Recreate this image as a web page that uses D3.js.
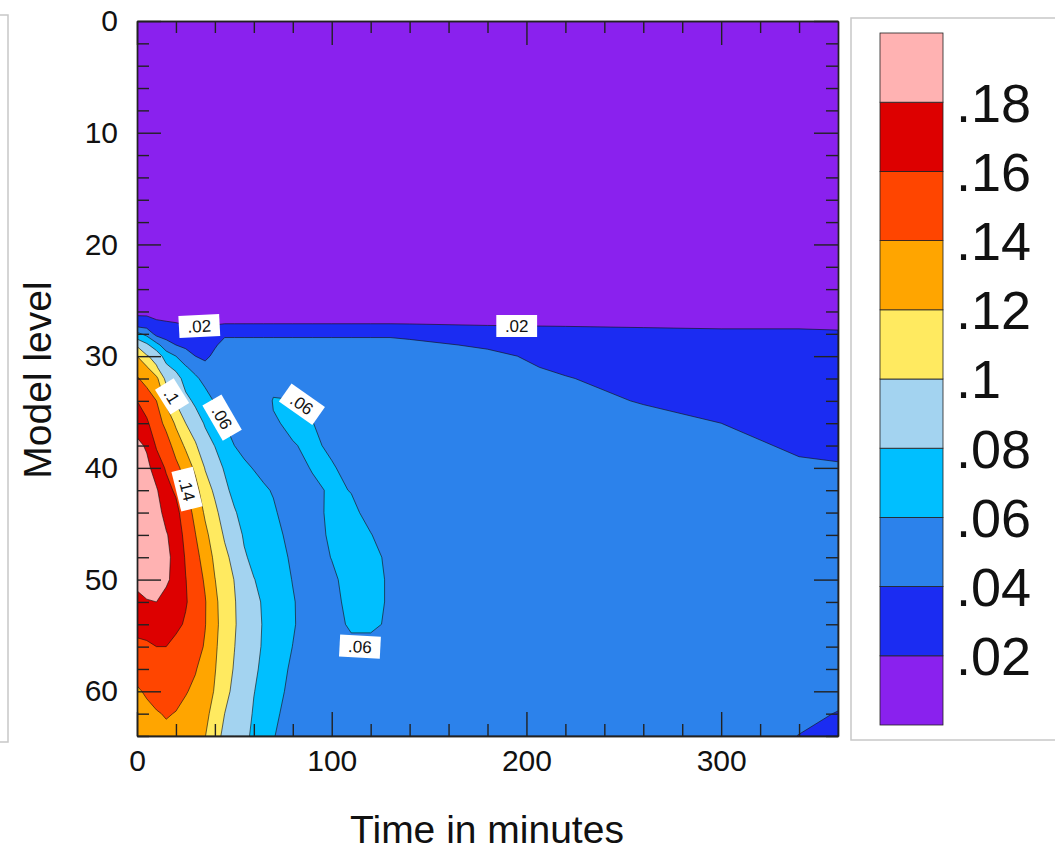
<!DOCTYPE html>
<html>
<head>
<meta charset="utf-8">
<script src="https://cdn.jsdelivr.net/npm/d3@7"></script>
<style>
  body { margin: 0; background: #fff; }
  text { font-family: "Liberation Sans", Arial, Helvetica, sans-serif; }
</style>
</head>
<body>
<div id="chart"></div>
<script>
// times (minutes) at which a vertical profile is stored
var times = [0, 5, 10, 15, 20, 25, 30, 35, 40, 45, 50, 55, 60, 65, 70, 80, 90, 100, 110, 120, 130, 140, 180, 220, 260, 300, 340, 360];
// model levels of each profile entry (0 = top)
var levels = [0, 20, 25, 26, 27, 28, 29, 30, 31, 32, 34, 36, 38, 40, 42, 44, 46, 48, 50, 52, 54, 56, 58, 60, 62, 64];

// one profile per time
var profiles = [
  [.005,.006,.011,.017,.025,.065,.097,.120,.131,.1422,.160,.169,.186,.192,.195,.196,.195,.192,.186,.174,.166,.156,.146,.138,.132,.128],
  [.005,.006,.010,.016,.026,.054,.084,.1018,.1218,.132,.152,.1627,.177,.186,.191,.193,.193,.191,.187,.179,.168,.157,.149,.142,.136,.130],
  [.005,.006,.009,.0145,.022,.0334,.0667,.0933,.1017,.1246,.140,.150,.158,.170,.182,.187,.189,.189,.187,.180,.170,.160,.152,.145,.139,.134],
  [.005,.006,.008,.013,.021,.031,.048,.070,.085,.094,.116,.134,.150,.158,.166,.174,.1815,.183,.1815,.177,.168,.160,.153,.147,.141,.137],
  [.005,.006,.007,.012,.020,.028,.040,.060,.074,.090,.098,.117,.131,.146,.157,.166,.172,.176,.177,.172,.164,.155,.149,.144,.1395,.135],
  [.005,.006,.006,.011,.018,.028,.036,.048,.062,.071,.086,.100,.117,.131,.141,.149,.154,.158,.1605,.1615,.158,.152,.146,.141,.136,.131],
  [.005,.006,.006,.010,.018,.025,.033,.040,.052,.064,.076,.090,.102,.116,.127,.135,.1405,.146,.150,.152,.151,.148,.141,.137,.132,.127],
  [.005,.006,.006,.010,.018,.024,.030,.037,.044,.053,.070,.078,.088,.099,.108,.117,.125,.132,.1375,.1412,.1408,.138,.134,.130,.125,.1205],
  [.005,.006,.006,.010,.018,.028,.0385,.043,.046,.050,.058,.069,.0795,.089,.097,.104,.110,.116,.1205,.1235,.124,.1225,.121,.1185,.113,.108],
  [.005,.006,.006,.010,.018,.038,.044,.045,.047,.049,.054,.060,.070,.078,.085,.092,.098,.104,.109,.112,.113,.112,.109,.105,.100,.095],
  [.005,.006,.006,.010,.018,.038,.044,.045,.046,.048,.052,.056,.060,.066,.074,.082,.089,.095,.0995,.1015,.102,.1005,.0985,.096,.093,.090],
  [.005,.006,.006,.010,.018,.038,.044,.045,.046,.048,.050,.053,.057,.062,.068,.073,.078,.082,.087,.090,.091,.090,.089,.088,.087,.085],
  [.005,.006,.006,.010,.018,.038,.044,.045,.046,.048,.049,.052,.055,.0595,.064,.068,.072,.076,.0805,.0835,.0845,.084,.0825,.0805,.0785,.076],
  [.005,.006,.006,.010,.018,.038,.044,.045,.046,.047,.048,.050,.053,.057,.0615,.065,.069,.073,.076,.0785,.079,.0785,.077,.075,.073,.071],
  [.005,.006,.006,.010,.018,.038,.044,.045,.046,.052,.0615,.058,.054,.056,.0592,.0615,.064,.066,.068,.069,.069,.068,.066,.064,.062,.0605],
  [.005,.006,.006,.010,.018,.038,.044,.045,.047,.050,.0605,.0635,.059,.053,.052,.054,.056,.058,.0595,.061,.0612,.0598,.058,.057,.056,.055],
  [.005,.006,.006,.010,.018,.038,.044,.045,.047,.050,.053,.0605,.063,.0612,.056,.054,.053,.053,.053,.053,.053,.052,.052,.052,.052,.052],
  [.005,.006,.006,.010,.018,.038,.044,.045,.047,.050,.052,.053,.057,.0615,.0625,.064,.063,.0605,.057,.055,.054,.053,.052,.052,.052,.052],
  [.005,.006,.006,.010,.018,.038,.044,.045,.047,.050,.051,.052,.053,.055,.0595,.063,.065,.066,.066,.065,.0625,.056,.053,.052,.052,.052],
  [.005,.006,.006,.010,.018,.038,.044,.045,.047,.049,.050,.051,.052,.053,.054,.056,.0605,.064,.065,.065,.0625,.056,.053,.052,.052,.052],
  [.005,.006,.006,.010,.018,.038,.044,.045,.047,.049,.050,.051,.051,.052,.053,.054,.054,.057,.058,.058,.058,.054,.052,.051,.051,.051],
  [.005,.006,.006,.010,.018,.035,.045,.046,.047,.048,.049,.050,.050,.051,.051,.051,.051,.052,.052,.052,.052,.051,.051,.051,.051,.051],
  [.005,.006,.006,.010,.018,.026,.037,.045,.046,.047,.048,.049,.049,.050,.050,.050,.050,.050,.050,.050,.050,.050,.050,.050,.049,.049],
  [.005,.006,.006,.010,.017,.026,.029,.032,.037,.041,.045,.047,.048,.048,.049,.049,.049,.049,.049,.049,.049,.049,.048,.048,.048,.047],
  [.005,.006,.006,.010,.016,.025,.027,.029,.031,.033,.039,.045,.046,.047,.047,.047,.047,.047,.047,.047,.047,.047,.047,.046,.046,.045],
  [.005,.006,.006,.010,.015,.024,.026,.028,.030,.032,.036,.040,.044,.045,.046,.046,.046,.046,.046,.046,.046,.046,.045,.045,.044,.043],
  [.005,.006,.006,.010,.015,.024,.025,.027,.029,.030,.032,.035,.038,.042,.044,.045,.045,.045,.045,.045,.044,.044,.043,.042,.0412,.0399],
  [.005,.006,.006,.010,.014,.023,.024,.026,.028,.029,.032,.034,.036,.0415,.043,.044,.044,.044,.044,.044,.043,.0425,.042,.0415,.0398,.0375]
];

var contourLevels = [.02, .04, .06, .08, .1, .12, .14, .16, .18];
var levelLabels = [".02", ".04", ".06", ".08", ".1", ".12", ".14", ".16", ".18"];
var colors = ["#8a21ee", "#1b2cf2", "#2c82eb", "#00bfff", "#a3d3f0", "#ffea60", "#ffa500", "#ff4500", "#dd0000", "#ffb2b2"];

var xMajor = [0, 100, 200, 300];
var xMinor = [20, 40, 60, 80, 120, 140, 160, 180, 220, 240, 260, 280, 320, 340];
var yMajor = [0, 10, 20, 30, 40, 50, 60];
var yMinor = [2, 4, 6, 8, 12, 14, 16, 18, 22, 24, 26, 28, 32, 34, 36, 38, 42, 44, 46, 48, 52, 54, 56, 58, 62, 64];

// labels written on the contour lines
var lineLabelText = [".02", ".02", ".1", ".06", ".06", ".14", ".06"];
var lineLabelTime = [32, 195, 18, 43.7, 84.7, 25.7, 114.5];
var lineLabelLevel = [27.3, 27.3, 33.6, 35.5, 34.3, 41.9, 56.0];
var lineLabelAngle = [-3, 0, 58, 60, 35, 76, 3];

var svg = d3.select("#chart").append("svg").attr("width", 1055).attr("height", 850);

var x = d3.scaleLinear().domain([0, 360]).range([137, 838]);
var y = d3.scaleLinear().domain([0, 64]).range([21, 736]);

// frames of the neighbouring panel and of the label bar
svg.append("path")
  .attr("d", "M0,15H8V742H0")
  .attr("fill", "none").attr("stroke", "#c8c8c8").attr("stroke-width", 1.5);
svg.append("rect")
  .attr("x", 851).attr("y", 18).attr("width", 220).attr("height", 722)
  .attr("fill", "none").attr("stroke", "#c8c8c8").attr("stroke-width", 1.5);

// grid for d3.contours, row by row
var nx = times.length, ny = levels.length;
var grid = new Array(nx * ny);
for (var j = 0; j < ny; j++) {
  for (var i = 0; i < nx; i++) grid[j * nx + i] = profiles[i][j];
}

// grid index -> time / level (the stored profiles are not evenly spaced)
var colTime = d3.scaleLinear().domain(d3.range(nx)).range(times).clamp(true);
var rowLevel = d3.scaleLinear().domain(d3.range(ny)).range(levels).clamp(true);

var path = d3.geoPath(d3.geoTransform({
  point: function(gx, gy) {
    this.stream.point(x(colTime(gx - 0.5)), y(rowLevel(gy - 0.5)));
  }
}));

var bands = d3.contours().size([nx, ny]).thresholds(contourLevels)(grid);

svg.append("clipPath").attr("id", "clip")
  .append("rect").attr("x", 137).attr("y", 21).attr("width", 701).attr("height", 715);

var plot = svg.append("g").attr("clip-path", "url(#clip)");
plot.append("rect")
  .attr("x", 137).attr("y", 21).attr("width", 701).attr("height", 715)
  .attr("fill", colors[0]);
plot.selectAll("path.band")
  .data(bands)
  .enter().append("path")
  .attr("class", "band")
  .attr("d", path)
  .attr("fill", function(d, i) { return colors[i + 1]; })
  .attr("stroke", "#151515")
  .attr("stroke-opacity", 0.8)
  .attr("stroke-width", 0.8);

// contour line labels
var lab = svg.append("g").selectAll("g")
  .data(lineLabelText)
  .enter().append("g")
  .attr("transform", function(d, i) {
    return "translate(" + x(lineLabelTime[i]) + "," + y(lineLabelLevel[i]) + ") rotate(" + lineLabelAngle[i] + ")";
  });
lab.append("rect")
  .attr("x", function(d) { return -d.length * 5.8 - 3; })
  .attr("y", -11)
  .attr("width", function(d) { return d.length * 11.6 + 6; })
  .attr("height", 22)
  .attr("fill", "#fff");
lab.append("text")
  .attr("text-anchor", "middle")
  .attr("dy", "0.36em")
  .attr("font-size", 17)
  .attr("fill", "#111")
  .text(function(d) { return d; });

// axes, ticks pointing into the plot on all four sides
function styleAxis(g) {
  g.selectAll("path.domain").attr("stroke", "#222").attr("stroke-width", 1.4);
  g.selectAll(".tick line").attr("stroke", "#222").attr("stroke-width", 1.4);
  g.selectAll("text").attr("font-size", 30).attr("fill", "#111")
    .style("font-family", "'Liberation Sans', Arial, sans-serif");
}

svg.append("g").attr("transform", "translate(137,0)")
  .call(d3.axisLeft(y).tickValues(yMajor).tickSize(-24).tickSizeOuter(0).tickPadding(19).tickFormat(d3.format("d")))
  .call(styleAxis);
svg.append("g").attr("transform", "translate(137,0)")
  .call(d3.axisLeft(y).tickValues(yMinor).tickSize(-12).tickSizeOuter(0).tickFormat(""))
  .call(styleAxis);
svg.append("g").attr("transform", "translate(838,0)")
  .call(d3.axisRight(y).tickValues(yMajor).tickSize(-24).tickSizeOuter(0).tickFormat(""))
  .call(styleAxis);
svg.append("g").attr("transform", "translate(838,0)")
  .call(d3.axisRight(y).tickValues(yMinor).tickSize(-12).tickSizeOuter(0).tickFormat(""))
  .call(styleAxis);
svg.append("g").attr("transform", "translate(0,736)")
  .call(d3.axisBottom(x).tickValues(xMajor).tickSize(-24).tickSizeOuter(0).tickPadding(14).tickFormat(d3.format("d")))
  .call(styleAxis);
svg.append("g").attr("transform", "translate(0,736)")
  .call(d3.axisBottom(x).tickValues(xMinor).tickSize(-12).tickSizeOuter(0).tickFormat(""))
  .call(styleAxis);
svg.append("g").attr("transform", "translate(0,21)")
  .call(d3.axisTop(x).tickValues(xMajor).tickSize(-24).tickSizeOuter(0).tickFormat(""))
  .call(styleAxis);
svg.append("g").attr("transform", "translate(0,21)")
  .call(d3.axisTop(x).tickValues(xMinor).tickSize(-12).tickSizeOuter(0).tickFormat(""))
  .call(styleAxis);

// axis titles
svg.append("text")
  .attr("x", 487).attr("y", 843)
  .attr("text-anchor", "middle")
  .attr("font-size", 39)
  .attr("fill", "#111")
  .text("Time in minutes");
svg.append("text")
  .attr("transform", "translate(51,380) rotate(-90)")
  .attr("text-anchor", "middle")
  .attr("font-size", 39)
  .attr("fill", "#111")
  .text("Model level");

// label bar
var cb = d3.scaleLinear().domain([0, colors.length]).range([725, 33]);
svg.append("g").selectAll("rect")
  .data(colors)
  .enter().append("rect")
  .attr("x", 880)
  .attr("y", function(d, i) { return cb(i + 1); })
  .attr("width", 63)
  .attr("height", function(d, i) { return cb(i) - cb(i + 1); })
  .attr("fill", function(d) { return d; })
  .attr("stroke", "#222")
  .attr("stroke-width", 0.8);
svg.append("g").selectAll("text")
  .data(levelLabels)
  .enter().append("text")
  .attr("x", 956)
  .attr("y", function(d, i) { return cb(i + 1); })
  .attr("dy", "0.36em")
  .attr("font-size", 54)
  .attr("fill", "#111")
  .text(function(d) { return d; });
</script>
</body>
</html>
